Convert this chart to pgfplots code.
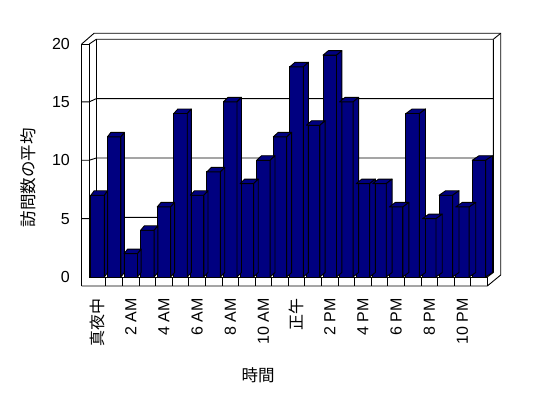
\documentclass[border=0pt]{standalone}
\usepackage{fontspec}
\setmainfont{Liberation Sans}
\newfontfamily\jp{Noto Sans CJK JP}
\usepackage{pgfplots}
\pgfplotsset{compat=1.18}
\usepackage{pgfplotstable}
\definecolor{navy}{RGB}{0,0,128}

\pgfplotstableread{
x y
0 7
1 12
2 2
3 4
4 6
5 14
6 7
7 9
8 15
9 8
10 10
11 12
12 18
13 13
14 19
15 15
16 8
17 8
18 6
19 14
20 5
21 7
22 6
23 10
}\visits

\begin{document}
\begin{tikzpicture}
\path[use as bounding box] (0,0) rectangle (548pt,398pt);
\begin{scope}[shift={(0,398pt)},x=1pt,y=-1pt,line width=0.9pt]
  % gridlines on back wall
  \foreach \v in {5,10,15} {
    \pgfmathsetmacro\yf{277-11.675*\v}
    \pgfmathsetmacro\yb{276.7-11.87*\v}
    \draw (81.7,\yf) -- (89.3,\yf) -- (96.3,\yb) -- (493.3,\yb);
  }
  % left wall
  \draw (81.7,286) -- (81.7,44) -- (89.3,44) -- (89.3,277);
  \draw (81.7,44) -- (94,33.3) -- (500.7,33.3) -- (500.7,275) -- (487.3,286) -- (81.7,286);
  \draw (89.3,44) -- (96.3,39.3) -- (493.3,39.3) -- (500.7,33.3);
  \draw (96.3,39.3) -- (96.3,277);
  \draw (493.3,39.3) -- (493.3,272.5) -- (487.3,277);
  % floor
  \draw (89.3,277) -- (487.3,277) -- (487.3,286);
  \foreach \k in {1,...,23} {
    \pgfmathsetmacro\xx{89.3+16.583*\k}
    \draw (\xx,277) -- (\xx,286);
  }
  % axis titles
  \node[rotate=90,font=\jp\fontsize{16.5}{18}\selectfont] at (28,178) {訪問数の平均};
  \node[font=\jp\fontsize{16.5}{18}\selectfont] at (258,375.5) {時間};
\end{scope}

\begin{axis}[
  at={(89.3pt,121pt)}, anchor=south west,
  scale only axis, width=398pt, height=233.5pt,
  xmin=-0.5, xmax=23.5, ymin=0, ymax=20,
  axis line style={draw=none},
  major tick length=0pt,
  clip=false,
  ytick={0,5,10,15,20},
  xtick={0,2,...,22},
  xticklabels={{\jp 真夜中},2 AM,4 AM,6 AM,8 AM,10 AM,{\jp 正午},2 PM,4 PM,6 PM,8 PM,10 PM},
  tick label style={font=\fontsize{16}{19}\selectfont},
  /pgf/number format/assume math mode=true,
  yticklabel style={anchor=east, inner sep=0pt},
  yticklabel shift=19.3pt,
  xticklabel style={rotate=90, anchor=east, inner sep=0pt},
  xticklabel shift=21.3pt,
]
% top and side faces
\addplot[only marks, scatter, mark=*, mark size=0pt,
  visualization depends on={rawy \as \barh},
  visualization depends on={rawx \as \xk},
  scatter/@pre marker code/.code={
    \pgfmathsetmacro\dx{3.3+0.148*\xk}
    \pgfmathsetmacro\H{\barh*11.675}
    \pgfmathsetmacro\Hb{4.5-\H}
    \pgfmathsetmacro\xr{6.75+\dx}
    \pgfmathsetmacro\xl{-6.75+\dx}
    \pgfmathsetmacro\Hn{-\H}
    \begin{scope}
    \filldraw[fill=navy,draw=black,line width=0.9pt,line join=round]
      (-6.75pt,0pt) -- (6.75pt,0pt) -- (\xr pt,4.5pt) -- (\xl pt,4.5pt) -- cycle;
    \filldraw[fill=navy,draw=black,line width=0.9pt,line join=round]
      (6.75pt,0pt) -- (\xr pt,4.5pt) -- (\xr pt,\Hb pt) -- (6.75pt,\Hn pt) -- cycle;
  },
  scatter/@post marker code/.code={\end{scope}},
] table[x=x,y=y] {\visits};
% front faces
\addplot[ybar, bar width=13.5pt, fill=navy, draw=black, line width=0.9pt] table[x=x,y=y] {\visits};
\end{axis}
\end{tikzpicture}
\end{document}
